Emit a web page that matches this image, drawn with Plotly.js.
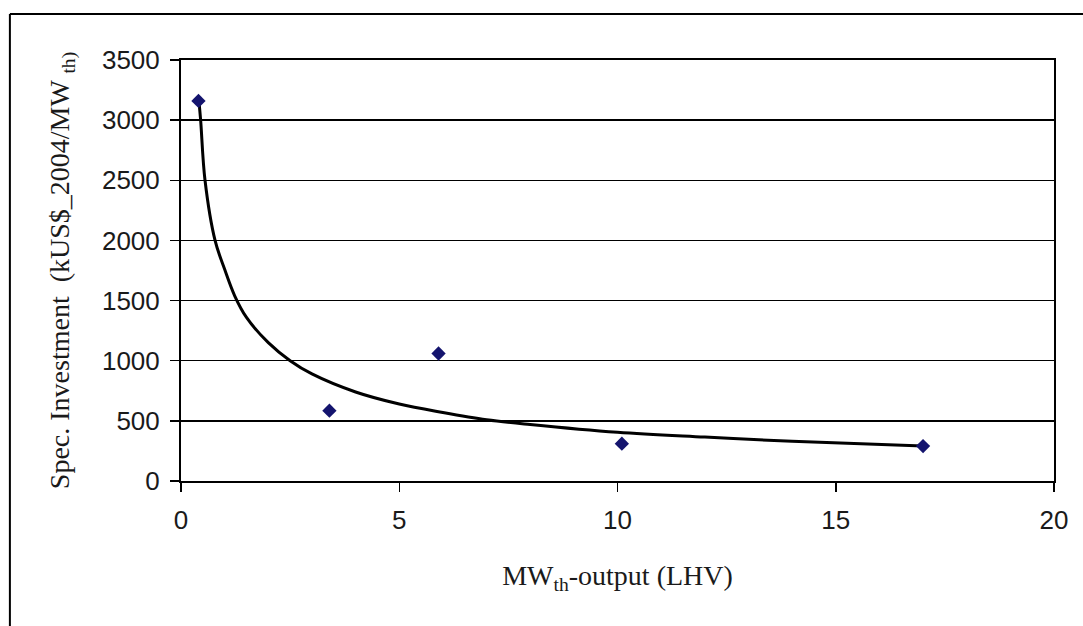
<!DOCTYPE html>
<html>
<head>
<meta charset="utf-8">
<script src="https://cdn.plot.ly/plotly-3.0.1.min.js"></script>
<style>html,body{margin:0;padding:0;background:#fff;}#chart{width:1083px;height:626px;}</style>
</head>
<body>
<div id="chart"></div>
<script>
// Data points
const pointX = [0.4, 3.4, 5.9, 10.1, 17.0];
const pointY = [3160, 585, 1060, 310, 290];

// Trend curve at several x positions
const curveX = [0.41, 0.45, 0.55, 0.78, 1.0, 1.23, 1.5, 2, 2.5, 3, 4, 5, 6, 7, 8, 10, 12, 14, 17];
const curveY = [3160, 3000, 2500, 2000, 1760, 1540, 1360, 1150, 1000, 890, 740, 640, 570, 510, 470, 405, 365, 330, 290];

const xTicks = [0, 5, 10, 15, 20];
const yTicks = [0, 500, 1000, 1500, 2000, 2500, 3000, 3500];

const traces = [
  {x: curveX, y: curveY, type: 'scatter', mode: 'lines',
   line: {color: '#000', width: 3, shape: 'spline', smoothing: 1}, hoverinfo: 'skip'},
  {x: pointX, y: pointY, type: 'scatter', mode: 'markers',
   marker: {symbol: 'diamond', size: 11, color: '#14146e'}}
];

const tickFont = {family: 'Liberation Sans, Arial, sans-serif', size: 26, color: '#1a1a1a'};
const titleFont = {family: 'Liberation Serif, Times New Roman, serif', size: 28, color: '#1a1a1a'};

const layout = {
  width: 1083, height: 626,
  margin: {l: 181, r: 29, t: 60, b: 145},
  paper_bgcolor: '#fff', plot_bgcolor: '#fff',
  showlegend: false,
  xaxis: {
    range: [0, 20], tickvals: xTicks, ticktext: xTicks.map(String),
    ticks: 'outside', ticklen: 9, tickwidth: 1.5, tickcolor: '#000',
    showgrid: false, zeroline: false,
    showline: true, linecolor: '#000', linewidth: 2, mirror: true,
    tickfont: tickFont, ticklabelstandoff: 6,
    title: {text: 'MW<sub>th</sub>-output (LHV)', font: titleFont, standoff: 31}
  },
  yaxis: {
    range: [0, 3500], tickvals: yTicks, ticktext: yTicks.map(String),
    ticks: 'outside', ticklen: 9, tickwidth: 1.5, tickcolor: '#000',
    showgrid: true, gridcolor: '#000', gridwidth: 1.5, zeroline: false,
    showline: true, linecolor: '#000', linewidth: 2, mirror: true,
    tickfont: tickFont, ticklabelstandoff: 5,
    title: {text: 'Spec. Investment  (kUS$_2004/MW <sub>th)</sub>', font: titleFont, standoff: 24}
  },
  shapes: [
    {type: 'line', xref: 'paper', yref: 'paper', x0: -0.196, x1: -0.196, y0: 1.109, y1: -0.4,
     line: {color: '#000', width: 2}},
    {type: 'line', xref: 'paper', yref: 'paper', x0: -0.196, x1: 1.1, y0: 1.109, y1: 1.109,
     line: {color: '#000', width: 2}}
  ]
};

Plotly.newPlot('chart', traces, layout, {displayModeBar: false, staticPlot: true});
</script>
</body>
</html>
